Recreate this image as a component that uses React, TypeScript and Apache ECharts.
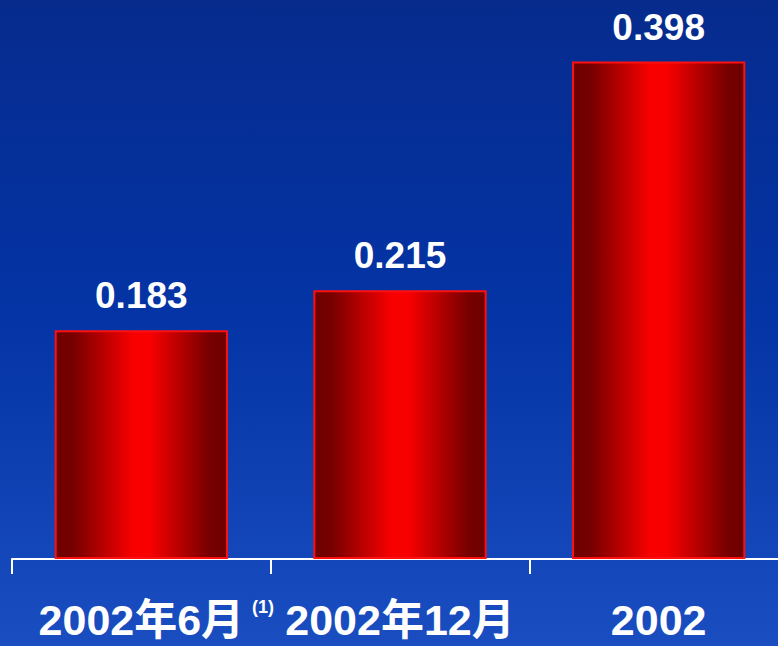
import React, { useEffect, useRef } from "react";
import * as echarts from "echarts";

const categories = ["2002年6月", "2002年12月", "2002"];
const values = [0.183, 0.215, 0.398];
const footnotes = ["(1)", "", ""];

export default function App() {
  const ref = useRef<HTMLDivElement>(null);
  useEffect(() => {
    if (!ref.current) return;
    const chart = echarts.init(ref.current, null, { renderer: "svg" });
    const font = "'Liberation Sans', Arial, 'Noto Sans CJK SC', sans-serif";
    chart.setOption({
      animation: false,
      backgroundColor: {
        type: "linear",
        x: 0,
        y: 0,
        x2: 0,
        y2: 1,
        colorStops: [
          { offset: 0, color: "#062b8d" },
          { offset: 0.5, color: "#0434a6" },
          { offset: 1, color: "#1a4ec0" },
        ],
      },
      grid: { left: 12, right: 0, top: 59, bottom: 87 },
      xAxis: {
        type: "category",
        data: categories,
        axisLine: { show: true, lineStyle: { color: "#ffffff", width: 2 } },
        axisTick: { show: true, interval: 0, length: 15, lineStyle: { color: "#ffffff", width: 2 } },
        axisLabel: {
          interval: 0,
          margin: 39,
          color: "#ffffff",
          fontFamily: font,
          fontWeight: "bold",
          fontSize: 43,
          formatter: (v: string, i: number) =>
            footnotes[i]
              ? `{pad| }{m|${v}}{sup|${footnotes[i]}}`
              : `{m|${v}}`,
          rich: {
            m: { fontSize: 43, fontWeight: "bold", fontFamily: font, color: "#ffffff" },
            pad: { width: 30, fontSize: 18 },
            sup: {
              fontSize: 18,
              fontWeight: "bold",
              fontFamily: font,
              color: "#ffffff",
              verticalAlign: "top",
              padding: [0, 0, 0, 8],
            },
          },
        },
      },
      yAxis: { type: "value", min: 0, max: 0.4, show: false, splitLine: { show: false } },
      series: [
        {
          type: "bar",
          data: values,
          barWidth: "67%",
          itemStyle: {
            borderColor: "#ff1010",
            borderWidth: 2,
            color: {
              type: "linear",
              x: 0,
              y: 0,
              x2: 1,
              y2: 0,
              colorStops: [
                { offset: 0, color: "#6e0000" },
                { offset: 0.1, color: "#760000" },
                { offset: 0.45, color: "#f80000" },
                { offset: 0.55, color: "#f80000" },
                { offset: 0.9, color: "#760000" },
                { offset: 1, color: "#6e0000" },
              ],
            },
          },
          label: {
            show: true,
            position: "top",
            distance: 16,
            color: "#ffffff",
            fontFamily: font,
            fontWeight: "bold",
            fontSize: 37,
            formatter: (p: any) => p.value.toFixed(3),
          },
        },
      ],
    });
    return () => chart.dispose();
  }, []);
  return (
    <div style={{ position: "fixed", left: 0, top: 0, width: 778, height: 646, overflow: "hidden" }}>
      <div ref={ref} style={{ width: 788, height: 646 }} />
    </div>
  );
}
